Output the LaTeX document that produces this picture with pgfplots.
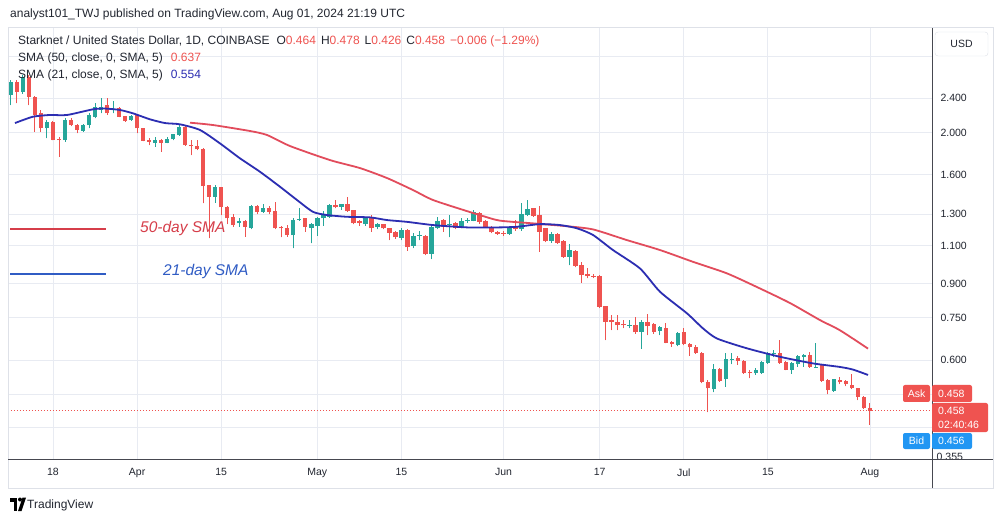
\documentclass[border=0pt]{standalone}
\usepackage{fontspec}
\setmainfont{Liberation Sans}
\usepackage{pgfplots}
\usepackage{pgfplotstable}
\pgfplotsset{compat=1.18}

\definecolor{upc}{RGB}{38,166,154}
\definecolor{dnc}{RGB}{239,83,80}
\definecolor{smared}{RGB}{226,76,92}
\definecolor{smablue}{RGB}{44,46,178}
\definecolor{gridc}{RGB}{232,235,242}
\definecolor{framec}{RGB}{222,225,232}
\definecolor{txt}{RGB}{34,38,48}
\definecolor{axisc}{RGB}{70,72,80}
\definecolor{bidc}{RGB}{33,150,243}
\definecolor{annred}{RGB}{214,62,74}
\definecolor{annblue}{RGB}{48,92,196}

% daily candles, d = days after 18 Mar 2024
\pgfplotstableread{
d o h l c
-7 2.442 2.644 2.316 2.621
-5 2.485 2.715 2.46 2.691
-1 2.047 2.139 1.941 2.12
2 1.924 2.158 1.907 2.139
5 2.021 2.10 2.01 2.083
6 2.083 2.216 2.047 2.197
7 2.177 2.337 2.158 2.295
8 2.256 2.40 2.216 2.295
10 2.25 2.37 2.216 2.264
13 2.139 2.197 2.13 2.185
17 1.896 1.958 1.857 1.924
19 1.896 1.95 1.89 1.93
20 1.931 1.99 1.92 1.986
21 1.976 2.083 1.97 2.064
27 1.424 1.515 1.38 1.502
31 1.237 1.27 1.215 1.252
33 1.208 1.365 1.20 1.355
35 1.315 1.37 1.31 1.34
40 1.162 1.27 1.083 1.259
41 1.26 1.339 1.255 1.264
43 1.208 1.24 1.112 1.23
44 1.219 1.28 1.16 1.274
45 1.27 1.32 1.22 1.293
46 1.281 1.37 1.275 1.363
48 1.35 1.37 1.33 1.368
52 1.232 1.28 1.22 1.27
54 1.213 1.24 1.20 1.232
58 1.145 1.21 1.13 1.194
60 1.10 1.175 1.085 1.16
61 1.158 1.19 1.13 1.162
63 1.052 1.22 1.024 1.215
64 1.21 1.281 1.20 1.254
66 1.227 1.293 1.149 1.232
68 1.215 1.27 1.205 1.254
69 1.25 1.275 1.24 1.256
70 1.254 1.325 1.25 1.311
76 1.168 1.22 1.165 1.215
78 1.198 1.375 1.19 1.30
79 1.293 1.40 1.285 1.332
83 1.126 1.18 1.115 1.168
86 1.036 1.11 0.99 1.074
96 0.719 0.74 0.71 0.722
98 0.696 0.74 0.637 0.734
101 0.70 0.72 0.684 0.713
104 0.649 0.695 0.645 0.692
110 0.513 0.588 0.505 0.573
112 0.541 0.621 0.52 0.604
113 0.603 0.621 0.587 0.604
117 0.559 0.575 0.555 0.57
118 0.56 0.597 0.557 0.594
119 0.591 0.625 0.588 0.621
120 0.62 0.634 0.608 0.622
123 0.57 0.592 0.558 0.589
124 0.587 0.617 0.578 0.613
125 0.61 0.62 0.578 0.616
127 0.576 0.657 0.575 0.579
130 0.509 0.543 0.507 0.541
}\upcandles

\pgfplotstableread{
d o h l c
-6 2.621 2.644 2.337 2.485
-4 2.691 2.715 2.316 2.42
-3 2.42 2.43 2.01 2.197
-2 2.216 2.256 2.01 2.047
0 2.12 2.13 1.92 1.924
1 1.93 1.96 1.761 1.924
3 2.139 2.158 2.07 2.083
4 2.083 2.09 1.993 2.029
9 2.316 2.40 2.20 2.216
11 2.276 2.295 2.17 2.177
12 2.185 2.19 2.12 2.128
14 2.197 2.20 1.993 2.047
15 2.047 2.05 1.91 1.917
16 1.924 1.941 1.873 1.907
18 1.924 1.93 1.808 1.896
22 2.064 2.07 1.865 1.873
23 1.876 1.924 1.777 1.863
24 1.863 1.924 1.825 1.831
25 1.835 1.84 1.375 1.507
26 1.515 1.52 1.142 1.424
28 1.497 1.50 1.293 1.346
29 1.351 1.355 1.232 1.27
30 1.281 1.30 1.215 1.226
32 1.254 1.26 1.152 1.215
34 1.355 1.365 1.30 1.315
36 1.34 1.355 1.30 1.315
37 1.322 1.387 1.20 1.205
38 1.215 1.22 1.149 1.205
39 1.205 1.225 1.153 1.162
42 1.27 1.275 1.183 1.215
47 1.363 1.40 1.34 1.347
49 1.368 1.424 1.315 1.32
50 1.327 1.33 1.23 1.237
51 1.25 1.26 1.22 1.237
53 1.276 1.29 1.183 1.205
55 1.23 1.235 1.20 1.205
56 1.205 1.21 1.132 1.177
57 1.183 1.19 1.14 1.149
59 1.196 1.20 1.07 1.09
62 1.158 1.165 1.045 1.052
65 1.259 1.265 1.183 1.215
67 1.237 1.245 1.20 1.21
71 1.308 1.315 1.235 1.247
72 1.254 1.26 1.21 1.215
73 1.215 1.22 1.175 1.179
74 1.183 1.19 1.165 1.17
75 1.175 1.185 1.16 1.17
77 1.215 1.259 1.19 1.198
80 1.339 1.34 1.28 1.285
81 1.293 1.355 1.064 1.183
82 1.205 1.21 1.12 1.126
84 1.172 1.175 1.11 1.116
85 1.126 1.13 1.03 1.036
87 1.07 1.075 0.98 0.986
88 0.992 1.01 0.903 0.94
89 0.945 0.974 0.924 0.935
90 0.937 0.945 0.925 0.932
91 0.935 0.94 0.79 0.795
92 0.798 0.80 0.666 0.734
93 0.743 0.76 0.703 0.734
94 0.734 0.76 0.703 0.721
95 0.726 0.74 0.71 0.721
97 0.721 0.754 0.69 0.694
99 0.734 0.764 0.684 0.717
100 0.725 0.73 0.69 0.696
102 0.709 0.73 0.655 0.657
103 0.66 0.665 0.643 0.652
105 0.694 0.71 0.648 0.652
106 0.652 0.655 0.613 0.641
107 0.643 0.648 0.62 0.623
108 0.624 0.626 0.53 0.534
109 0.534 0.54 0.455 0.516
111 0.573 0.576 0.535 0.537
114 0.606 0.612 0.585 0.597
115 0.597 0.60 0.558 0.560
116 0.563 0.57 0.544 0.560
121 0.623 0.666 0.588 0.591
122 0.594 0.598 0.568 0.57
126 0.616 0.626 0.576 0.578
128 0.583 0.585 0.535 0.537
129 0.539 0.541 0.50 0.511
131 0.539 0.547 0.528 0.533
132 0.536 0.54 0.522 0.527
133 0.525 0.556 0.514 0.516
134 0.516 0.518 0.485 0.494
135 0.492 0.495 0.462 0.464
136 0.464 0.478 0.426 0.458
}\downcandles

% moving averages
\pgfplotstableread{
d p
22.81 2.109
26.64 2.083
32.80 2.018
35.63 1.976
39.45 1.864
46.11 1.730
51.11 1.658
55.60 1.573
59.93 1.476
63.26 1.400
68.92 1.320
71.58 1.286
74.41 1.255
79.91 1.237
85.40 1.219
89.90 1.198
95.55 1.132
101.05 1.074
106.54 1.009
112.20 0.949
117.70 0.876
122.69 0.811
127.68 0.741
131.01 0.702
135.68 0.637
}\smafifty

\pgfplotstableread{
d p
-6.33 2.105
-3.33 2.177
-0.50 2.197
2.33 2.197
6.66 2.264
8.66 2.273
11.15 2.256
13.32 2.216
16.15 2.147
18.65 2.105
21.14 2.091
24.47 2.029
27.80 1.890
31.13 1.746
34.46 1.626
37.79 1.502
40.62 1.400
43.28 1.315
45.61 1.293
48.94 1.281
52.77 1.277
55.60 1.259
58.93 1.247
63.26 1.226
68.92 1.211
74.41 1.211
77.24 1.215
81.07 1.232
84.40 1.226
87.23 1.205
89.90 1.163
93.22 1.074
97.72 0.974
101.05 0.861
105.54 0.768
108.21 0.709
110.54 0.672
115.53 0.638
121.02 0.610
126.52 0.589
131.01 0.578
133.18 0.570
135.68 0.554
}\smatwentyone

\pgfplotsset{
  candle/.style={only marks, mark size=0pt, mark options={draw=none, fill=none}, forget plot,
    error bars/.cd, y dir=plus, y explicit, error mark=none,
    error bar style={draw=#1, line width=1pt}},
  body/.style={only marks, mark size=0pt, mark options={draw=none, fill=none}, forget plot,
    error bars/.cd, y dir=plus, y explicit, error mark=none,
    error bar style={draw=#1, line width=4.4pt}},
}

\begin{document}
\begin{tikzpicture}
\useasboundingbox (0,0) rectangle (1003pt,522pt);
\fill[white] (0,0) rectangle (1003pt,522pt);

\begin{axis}[
  at={(8pt,63pt)}, anchor=south west,
  scale only axis, width=924pt, height=431pt,
  ymode=log,
  xmin=-7.491, xmax=146.33, ymin=0.3549, ymax=3.484,
  axis line style={draw=none},
  major tick length=0pt,
  xtick={0,14,28,44,58,75,91,105,119,136},
  xticklabels={18,Apr,15,May,15,Jun,17,Jul,15,Aug},
  ytick={0.42,0.5,0.6,0.75,0.9,1.1,1.3,1.6,2.0,2.4,3.0},
  yticklabels={{},{},0.600,0.750,0.900,1.100,1.300,1.600,2.000,2.400,{}},
  yticklabel pos=right,
  grid=major,
  grid style={gridc, line width=0.8pt},
  tick label style={font=\fontsize{10.5}{12}\selectfont, text=txt},
  yticklabel style={anchor=west, xshift=5pt},
  xticklabel style={anchor=north, yshift=-6pt},
]
\addplot[dnc, line width=0.9pt, dash pattern=on 1pt off 2pt, forget plot]
  coordinates {(-7.5,0.458) (146.4,0.458)};

% wicks
\addplot[candle=upc] table[x=d, y=l, y error plus expr={\thisrow{h}-\thisrow{l}}] {\upcandles};
\addplot[candle=dnc] table[x=d, y=l, y error plus expr={\thisrow{h}-\thisrow{l}}] {\downcandles};
% bodies
\addplot[body=upc] table[x=d, y=o, y error plus expr={\thisrow{c}-\thisrow{o}}] {\upcandles};
\addplot[body=dnc] table[x=d, y=c, y error plus expr={\thisrow{o}-\thisrow{c}}] {\downcandles};

% SMA lines
\addplot[smared, line width=1.8pt, smooth, tension=0.4] table[x=d, y=p] {\smafifty};
\addplot[smablue, line width=1.8pt, smooth, tension=0.4] table[x=d, y=p] {\smatwentyone};
\end{axis}

% frame and price/time axes
\draw[framec, line width=1pt] (8pt,34pt) rectangle (993pt,494pt);
\node[anchor=west, inner sep=0, text=txt, font=\fontsize{10.5}{12}\selectfont] at (936.5pt,65.5pt) {0.355};
\fill[white] (933pt,50pt) rectangle (992pt,62.5pt);
\draw[axisc, line width=0.9pt] (8pt,63pt) -- (993pt,63pt);
\draw[axisc, line width=0.9pt] (932pt,34pt) -- (932pt,494pt);

% USD box
\draw[framec, fill=white, rounded corners=3pt] (935pt,466pt) rectangle (988pt,490pt);
\node[text=txt, font=\fontsize{10.5}{12}\selectfont] at (961.5pt,478pt) {USD};

% price tags
\fill[dnc, rounded corners=2pt] (903pt,120pt) rectangle (930pt,137pt);
\node[white, font=\fontsize{10.5}{12}\selectfont] at (916.5pt,128.5pt) {Ask};
\fill[dnc, rounded corners=2pt] (932pt,120pt) rectangle (972pt,137pt);
\node[anchor=west, inner sep=0, white, font=\fontsize{10.5}{12}\selectfont] at (938pt,128.5pt) {0.458};
\fill[dnc, rounded corners=2pt] (932pt,90pt) rectangle (988pt,119pt);
\node[anchor=west, inner sep=0, white, font=\fontsize{10.5}{12}\selectfont] at (938pt,111pt) {0.458};
\node[anchor=west, inner sep=0, white, font=\fontsize{10.5}{12}\selectfont] at (938pt,97pt) {02:40:46};
\fill[bidc, rounded corners=2pt] (903pt,73pt) rectangle (930pt,89pt);
\node[white, font=\fontsize{10.5}{12}\selectfont] at (916.5pt,81pt) {Bid};
\fill[bidc, rounded corners=2pt] (932pt,73pt) rectangle (972pt,89pt);
\node[anchor=west, inner sep=0, white, font=\fontsize{10.5}{12}\selectfont] at (938pt,81pt) {0.456};

% header and legend
\node[anchor=west, inner sep=0, text=txt, font=\fontsize{12}{14}\selectfont] at (10pt,508pt)
  {analyst101\_TWJ published on TradingView.com, Aug 01, 2024 21:19 UTC};
\node[anchor=west, inner sep=0, text=txt, font=\fontsize{12}{14}\selectfont] at (18pt,481pt)
  {Starknet / United States Dollar, 1D, COINBASE\hspace{7pt}O\textcolor{dnc}{0.464}\hspace{5pt}H\textcolor{dnc}{0.478}\hspace{5pt}L\textcolor{dnc}{0.426}\hspace{5pt}C\textcolor{dnc}{0.458}\hspace{5pt}\textcolor{dnc}{−0.006 (−1.29\%)}};
\node[anchor=west, inner sep=0, text=txt, font=\fontsize{12}{14}\selectfont] at (18pt,463.7pt)
  {SMA (50, close, 0, SMA, 5)\hspace{8pt}\textcolor{dnc}{0.637}};
\node[anchor=west, inner sep=0, text=txt, font=\fontsize{12}{14}\selectfont] at (18pt,446.3pt)
  {SMA (21, close, 0, SMA, 5)\hspace{8pt}\textcolor{smablue}{0.554}};

% annotations
\draw[annred, line width=2.2pt] (10pt,293.3pt) -- (106pt,293.3pt);
\node[anchor=west, inner sep=0, text=annred, font=\itshape\fontsize{15.5}{17}\selectfont] at (140pt,294pt) {50-day SMA};
\draw[annblue, line width=2pt] (10pt,248pt) -- (106pt,248pt);
\node[anchor=west, inner sep=0, text=annblue, font=\itshape\fontsize{15.5}{17}\selectfont] at (163pt,251pt) {21-day SMA};

% TradingView mark
\fill[black] (10pt,20.5pt) rectangle (17pt,24.5pt);
\fill[black] (13.5pt,11pt) rectangle (17pt,24.5pt);
\fill[black] (20pt,22.5pt) circle (2pt);
\fill[black] (18pt,11pt) -- (21.5pt,11pt) -- (26pt,24.5pt) -- (22.5pt,24.5pt) -- cycle;
\node[anchor=west, inner sep=0, text=txt, font=\fontsize{12}{14}\selectfont] at (27pt,17pt) {TradingView};
\end{tikzpicture}
\end{document}
